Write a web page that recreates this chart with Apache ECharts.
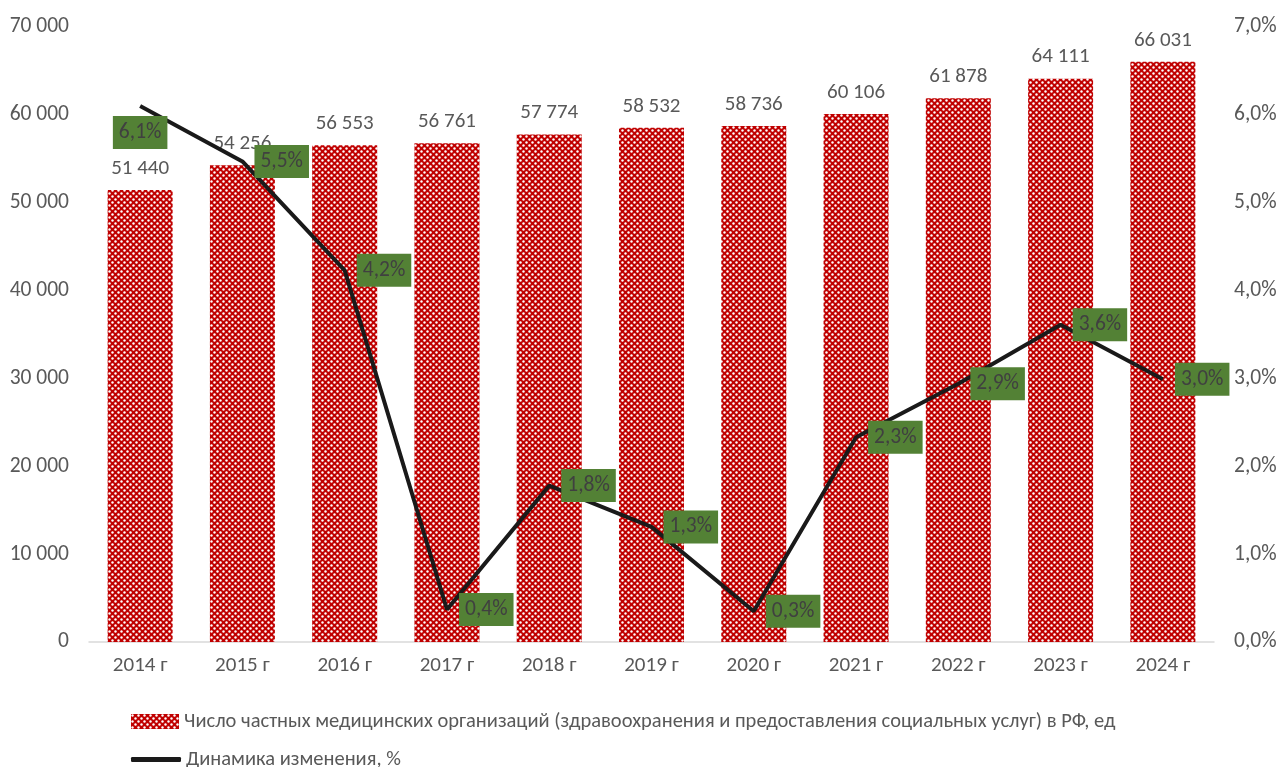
<!DOCTYPE html>
<html><head><meta charset="utf-8">
<script src="https://cdn.jsdelivr.net/npm/echarts@6/dist/echarts.min.js"></script>
<style>html,body{margin:0;padding:0;background:#fff}#c{width:1280px;height:767px}</style>
</head><body><div id="c"></div>
<script>
var categories = ['2014 г','2015 г','2016 г','2017 г','2018 г','2019 г','2020 г','2021 г','2022 г','2023 г','2024 г'];
var orgCounts = [51440, 54256, 56553, 56761, 57774, 58532, 58736, 60106, 61878, 64111, 66031];
var changePct = [6.1, 5.47, 4.23, 0.37, 1.78, 1.31, 0.35, 2.33, 2.94, 3.61, 2.99];
var leftTicks = {min: 0, max: 70000, interval: 10000};
var rightTicks = {min: 0, max: 7, interval: 1};
var barName = 'Число частных медицинских организаций (здравоохранения и предоставления социальных услуг) в РФ, ед';
var lineName = 'Динамика изменения, %';

var FONT = "Carlito, 'Liberation Sans', sans-serif";
var GRAY = '#595959';

var pc = document.createElement('canvas');
pc.width = 6; pc.height = 6;
var g = pc.getContext('2d');
g.fillStyle = '#c00000'; g.fillRect(0,0,6,6);
g.fillStyle = '#ffffff';
g.beginPath(); g.arc(1.5,1.5,1.2,0,Math.PI*2); g.fill();
g.beginPath(); g.arc(4.5,4.5,1.2,0,Math.PI*2); g.fill();

function thou(v){ return String(v).replace(/\B(?=(\d{3})+(?!\d))/g, ' '); }
function pct(v){ return v.toFixed(1).replace('.', ',') + '%'; }

var lineData = changePct.map(function(v, i){
  return {value: v, label: i === 0 ? {position: 'bottom', distance: 10} : {position: 'right', distance: 12}};
});

var chart = echarts.init(document.getElementById('c'));
chart.setOption({
  animation: false,
  textStyle: {fontFamily: FONT},
  grid: {left: 89, right: 66, top: 27, bottom: 125},
  legend: [{
    left: 126, top: 706, itemWidth: 48, itemHeight: 15, itemGap: 6,
    textStyle: {fontFamily: FONT, fontSize: 20.5, color: GRAY},
    data: [{name: barName, icon: 'rect'}]
  }, {
    left: 126, top: 744, itemWidth: 50, itemHeight: 5, itemGap: 6,
    textStyle: {fontFamily: FONT, fontSize: 20.5, color: GRAY},
    data: [{name: lineName, icon: 'roundRect'}]
  }],
  xAxis: {
    type: 'category', data: categories,
    axisLine: {lineStyle: {color: '#d9d9d9', width: 1.5}},
    axisTick: {show: false},
    axisLabel: {fontFamily: FONT, fontSize: 21, color: GRAY, margin: 13}
  },
  yAxis: [{
    type: 'value', min: leftTicks.min, max: leftTicks.max, interval: leftTicks.interval,
    splitLine: {show: false}, axisLine: {show: false}, axisTick: {show: false},
    axisLabel: {fontFamily: FONT, fontSize: 21.5, color: GRAY, margin: 20, formatter: function(v){ return thou(v); }}
  }, {
    type: 'value', min: rightTicks.min, max: rightTicks.max, interval: rightTicks.interval,
    splitLine: {show: false}, axisLine: {show: false}, axisTick: {show: false},
    axisLabel: {fontFamily: FONT, fontSize: 21.5, color: GRAY, margin: 20, formatter: function(v){ return pct(v); }}
  }],
  series: [{
    name: barName, type: 'bar', data: orgCounts, barWidth: 65,
    itemStyle: {color: {image: pc, repeat: 'repeat'}},
    label: {show: true, position: 'top', distance: 11, fontFamily: FONT, fontSize: 21, color: GRAY,
      formatter: function(p){ return thou(p.value); }}
  }, {
    name: lineName, type: 'line', yAxisIndex: 1, data: lineData,
    showSymbol: true, symbol: 'circle', symbolSize: 0.1,
    lineStyle: {color: '#1a1a1a', width: 4},
    itemStyle: {color: '#1a1a1a'},
    label: {show: true, fontFamily: FONT, fontSize: 21.5, color: '#404040',
      backgroundColor: '#538135', padding: [6, 6, 5, 6],
      formatter: function(p){ return pct(p.value); }}
  }]
});
</script></body></html>
